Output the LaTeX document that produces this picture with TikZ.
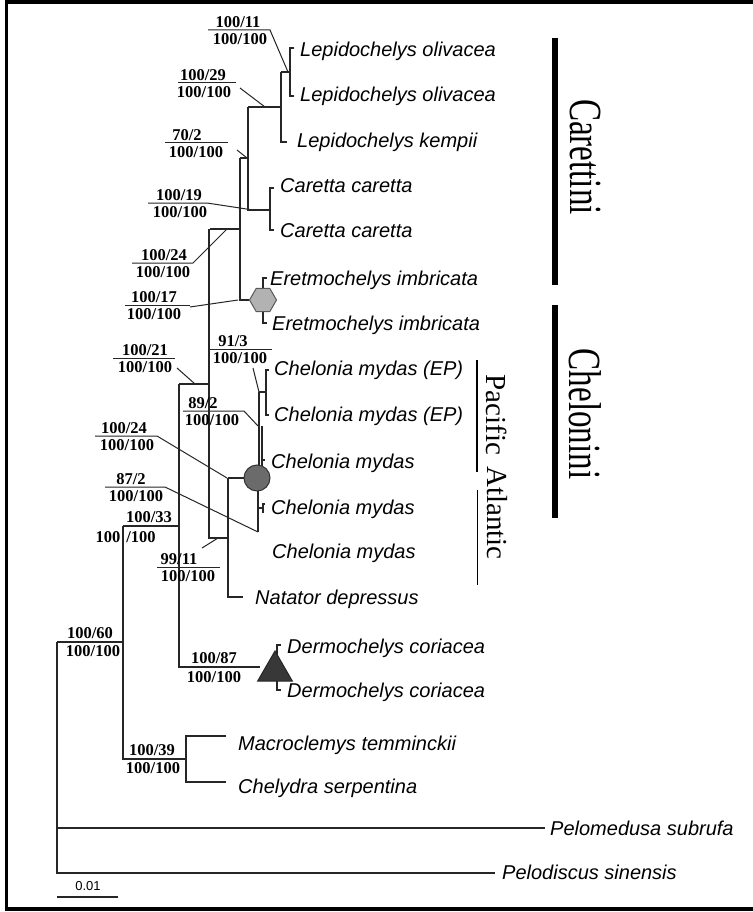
\documentclass[tikz,border=0pt]{standalone}
\usepackage{fontspec}
\setmainfont{Liberation Serif}
\newfontfamily\taxfont{Liberation Sans}
\usetikzlibrary{shapes.geometric}
\tikzset{
  br/.style={line width=1.3pt, draw=black!85},
  rl/.style={line width=1pt, draw=black!85},
  tax/.style={anchor=base west, font=\taxfont\itshape\fontsize{20}{24}\selectfont, inner sep=0pt},
  supt/.style={anchor=south, font=\bfseries\fontsize{16.5}{18}\selectfont, inner sep=0pt},
  supb/.style={anchor=north, font=\bfseries\fontsize{16.5}{18}\selectfont, inner sep=0pt},
  bigbar/.style={line width=6.5pt},
  cladelab/.style={rotate=-90, font=\fontsize{46}{46}\selectfont, inner sep=0pt},
  sublab/.style={rotate=-90, font=\fontsize{29}{29}\selectfont, inner sep=0pt},
}
\begin{document}
\begin{tikzpicture}[x=1pt,y=-1pt]
\useasboundingbox (0,0) rectangle (752,912);
\fill[white] (0,0) rectangle (752,912);
\draw[line width=3.5pt] (770,2) -- (6.5,2) -- (6.5,909) -- (770,909);

% ---------- taxa ----------
\node[tax] (t1) at (300,57) {Lepidochelys olivacea};
\node[tax] (t2) at (300,102) {Lepidochelys olivacea};
\node[tax] (t3) at (297,148) {Lepidochelys kempii};
\node[tax] (t4) at (280,193) {Caretta caretta};
\node[tax] (t5) at (280,237) {Caretta caretta};
\node[tax] (t6) at (270,285) {Eretmochelys imbricata};
\node[tax] (t7) at (272,330) {Eretmochelys imbricata};
\node[tax] (t8) at (274,375) {Chelonia mydas (EP)};
\node[tax] (t9) at (274,421) {Chelonia mydas (EP)};
\node[tax] (t10) at (271,468) {Chelonia mydas};
\node[tax] (t11) at (271,514) {Chelonia mydas};
\node[tax] (t12) at (272,558) {Chelonia mydas};
\node[tax] (t13) at (255,604) {Natator depressus};
\node[tax] (t14) at (287,653) {Dermochelys coriacea};
\node[tax] (t15) at (287,697) {Dermochelys coriacea};
\node[tax] (t16) at (238,750) {Macroclemys temminckii};
\node[tax] (t17) at (238,793) {Chelydra serpentina};
\node[tax] (t18) at (550,835) {Pelomedusa subrufa};
\node[tax] (t19) at (502,879) {Pelodiscus sinensis};

% ---------- internal node positions ----------
\coordinate (nLo) at (290,72);
\coordinate (nLep) at (281,107);
\coordinate (nLC) at (248,158);
\coordinate (nCar) at (270,210);
\coordinate (nCarettini) at (240,229);
\coordinate (nCheloniidae) at (209,384);
\coordinate (nChNat) at (228,538);
\coordinate (nSea) at (179,525);
\coordinate (nCryp) at (123,642);
\coordinate (nMC) at (186,759);
\coordinate (nRoot) at (57,642);

% ---------- tree ----------
% Lepidochelys
\draw[br] (294,48) -- (290,48) -- (290,96) -- (294,96);
\draw[br] (nLep |- nLo) -- (nLo);
\draw[br] (nLep |- nLo) -- (281,142) -- (287,142);
\draw[br] (nLC |- nLep) -- (nLep);
% Caretta
\draw[br] (nLC |- nLep) -- (248,210) -- (nCar);
\draw[br] (274,188) -- (270,188) -- (270,230) -- (274,230);
\draw[br] (240,158) -- (nLC);
% Eretmochelys
\draw[br] (267,278) -- (263,278) -- (263,323) -- (267,323);
\node[regular polygon, regular polygon sides=6, minimum size=27pt, inner sep=0pt,
      fill=black!30, draw=black!65, line width=1pt] (hex) at (263,300) {};
\draw[br] (240,158) -- (240,300) -- (hex.west);
\draw[br] (210,229) -- (nCarettini);
% Chelonini + Carettini
\draw[br] (209,229) -- (209,538) -- (nChNat);
\draw[br] (179,384) -- (nCheloniidae);
% Chelonia / Natator
\draw[br] (228,478) -- (228,597) -- (243,597);
\draw[br] (259,392) -- (259,466);
\draw[br] (262,426) -- (262,466);
\draw[br] (259,392) -- (266,392);
\draw[br] (269,370) -- (266,370) -- (266,415) -- (269,415);
\draw[br] (262,460) -- (265,460);
\draw[br] (258,490) -- (258,532);
\draw[br] (258,508) -- (263,508);
\draw[br] (265,504) -- (263,504) -- (263,513);
\node[circle, minimum size=26pt, inner sep=0pt, fill=black!58, draw=black!80, line width=1pt] (cm) at (257,478) {};
\draw[br] (228,478) -- (cm.west);
% Dermochelys
\draw[br] (281,645) -- (277,645) -- (277,690) -- (281,690);
\node[regular polygon, regular polygon sides=3, minimum size=40pt, inner sep=0pt,
      fill=black!78, draw=black!85, line width=1pt] (tri) at (275,671) {};
\draw[br] (179,384) -- (179,667) -- (260,667);
% Cryptodira part
\draw[br] (123,526) -- (179,526);
\draw[br] (123,526) -- (123,759) -- (nMC);
\draw[br] (226,736) -- (186,736) -- (186,782) -- (226,782);
\draw[br] (nRoot) -- (nCryp);
\draw[br] (nRoot) -- (57,873) -- (495,873);
\draw[br] (57,828) -- (545,828);

% ---------- scale bar ----------
\draw[br] (57,897) -- (118,897);
\node[font=\taxfont\fontsize{13}{14}\selectfont, inner sep=0pt] (scale) at (88,886) {0.01};

% ---------- support values ----------
% 1
\draw[rl] (208,30) -- (270,30) -- (288,72);
\node[supt] (s1a) at (238,28) {100/11};
\node[supb] (s1b) at (240,33) {100/100};
% 2
\draw[rl] (178,83) -- (236,83);
\draw[rl] (240,88) -- (265,107);
\node[supt] (s2a) at (203,81) {100/29};
\node[supb] (s2b) at (204,86) {100/100};
% 3
\draw[rl] (165,143) -- (228,143);
\draw[rl] (237,150) -- (247,158);
\node[supt] (s3a) at (187,141) {70/2};
\node[supb] (s3b) at (196,146) {100/100};
% 4
\draw[rl] (148,203) -- (207,203) -- (253,210);
\node[supt] (s4a) at (179,201) {100/19};
\node[supb] (s4b) at (180,206) {100/100};
% 5
\draw[rl] (132,263) -- (193,263) -- (227,229);
\node[supt] (s5a) at (164,261) {100/24};
\node[supb] (s5b) at (163,266) {100/100};
% 6
\draw[rl] (125,305) -- (190,305);
\draw[rl] (190,307) -- (238,300);
\node[supt] (s6a) at (154,303) {100/17};
\node[supb] (s6b) at (154,308) {100/100};
% 7
\draw[rl] (209,349) -- (272,349);
\draw[rl] (253,368) -- (259,392);
\node[supt] (s7a) at (233,347) {91/3};
\node[supb] (s7b) at (240,352) {100/100};
% 8
\draw[rl] (113,358) -- (175,358);
\draw[rl] (177,368) -- (195,384);
\node[supt] (s8a) at (145,356) {100/21};
\node[supb] (s8b) at (145,361) {100/100};
% 9
\draw[rl] (183,411) -- (244,411) -- (258,426);
\node[supt] (s9a) at (203,409) {89/2};
\node[supb] (s9b) at (212,414) {100/100};
% 10
\draw[rl] (95,436) -- (157,436) -- (227,478);
\node[supt] (s10a) at (124,434) {100/24};
\node[supb] (s10b) at (127,439) {100/100};
% 11
\draw[rl] (105,487) -- (165,487) -- (258,532);
\node[supt] (s11a) at (131,485) {87/2};
\node[supb] (s11b) at (136,490) {100/100};
% 12
\node[supt] (s12a) at (149,523) {100/33};
\node[supb] (s12b) at (108,531) {100};
\node[supb] (s12c) at (141,531) {/100};
% 13
\draw[rl] (157,567) -- (220,567);
\draw[rl] (202,548) -- (218,538);
\node[supt] (s13a) at (179,565) {99/11};
\node[supb] (s13b) at (188,570) {100/100};
% 14
\node[supt] (s14a) at (90,639) {100/60};
\node[supb] (s14b) at (93,645) {100/100};
% 15
\node[supt] (s15a) at (214,664) {100/87};
\node[supb] (s15b) at (214,671) {100/100};
% 16
\node[supt] (s16a) at (152,756) {100/39};
\node[supb] (s16b) at (153,762) {100/100};

% ---------- clade bars ----------
\draw[bigbar] (555,38) -- (555,285);
\draw[bigbar] (555,305) -- (555,518);
\node[cladelab] (lCar) at (585,157) {\scalebox{0.72}[1]{Carettini}};
\node[cladelab] (lChe) at (585,414) {\scalebox{0.72}[1]{Chelonini}};
\draw[line width=2.5pt] (477,360) -- (477,472);
\draw[line width=1pt] (477,490) -- (477,585);
\node[sublab] (lPac) at (497,415) {Pacific};
\node[sublab] (lAtl) at (497,513) {Atlantic};
\end{tikzpicture}
\end{document}
